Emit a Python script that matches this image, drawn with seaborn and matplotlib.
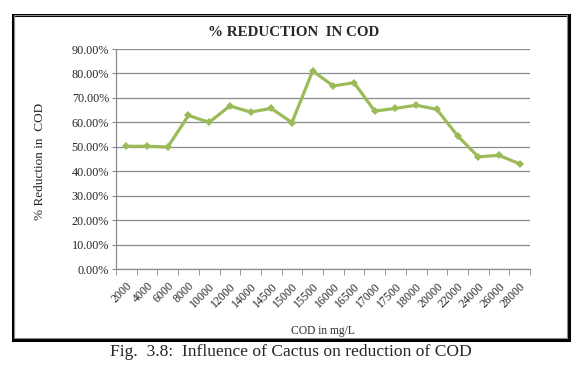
import pandas as pd
import matplotlib.pyplot as plt
import seaborn as sns
from matplotlib.ticker import FuncFormatter, MultipleLocator, FixedLocator
from matplotlib.patches import Rectangle

cod = ['2000', '4000', '6000', '8000', '10000', '12000', '14000', '14500', '15000', '15500',
       '16000', '16500', '17000', '17500', '18000', '20000', '22000', '24000', '26000', '28000']
reduction = [50.2, 50.2, 49.9, 62.8, 60.0, 66.7, 64.2, 65.7, 59.9, 81.0,
             74.9, 76.2, 64.6, 65.7, 67.0, 65.3, 54.5, 45.9, 46.5, 43.0]

data = pd.DataFrame({'cod': cod, 'reduction': reduction})

sns.set_style('white')
plt.rcParams['font.family'] = ['Liberation Serif', 'DejaVu Serif']

fig = plt.figure(figsize=(5.84, 3.66), dpi=100)
ax = fig.add_axes([116/584, 1-269/366, 414/584, 220/366])

sns.lineplot(x='cod', y='reduction', data=data, ax=ax, color='#9BBB59',
             linewidth=2.3, marker='D', markersize=4.5, markeredgewidth=0,
             solid_joinstyle='round')

ax.set_xlim(-0.5, len(cod) - 0.5)
ax.set_ylim(0, 90)
ax.yaxis.set_major_locator(MultipleLocator(10))
ax.yaxis.set_major_formatter(FuncFormatter(lambda v, p: '%.2f%%' % v))
ax.grid(axis='y', color='#8c8c8c', linewidth=0.9)
ax.set_axisbelow(True)

ax.xaxis.set_minor_locator(FixedLocator([i - 0.5 for i in range(len(cod) + 1)]))
ax.tick_params(axis='x', which='major', length=0, labelsize=8.5, pad=8)
ax.tick_params(axis='x', which='minor', length=4, color='#8c8c8c', direction='out', bottom=True)
ax.tick_params(axis='y', length=3, color='#8c8c8c', direction='out', left=True, labelsize=8.7, pad=2)
plt.setp(ax.get_xticklabels(), rotation=45, ha='right', rotation_mode='anchor')

for s in ['top', 'right']:
    ax.spines[s].set_visible(False)
for s in ['left', 'bottom']:
    ax.spines[s].set_color('#8c8c8c')
    ax.spines[s].set_linewidth(0.9)

ax.set_xlabel('COD in mg/L', fontsize=8.3)
ax.set_ylabel('% Reduction in  COD', fontsize=9.5)
ax.xaxis.set_label_coords(0.5, -(325 - 269) / 220)
ax.yaxis.set_label_coords(-(116 - 46) / 414, 1 - (161 - 49) / 220)

fig.text(294/584, 1-32/366, '% REDUCTION  IN COD', ha='center', va='center',
         fontsize=10.8, fontweight='bold')

fig.patches.append(Rectangle((13/584, 1-340/366), 556/584, 325/366, transform=fig.transFigure,
                             fill=False, edgecolor='black', linewidth=2.2))
fig.patches.append(Rectangle((14/584, 1-338/366), 553/584, 323/366, transform=fig.transFigure,
                             fill=False, edgecolor='#8c8c8c', linewidth=0.8))

fig.text(291/584, 1-352/366, 'Fig.  3.8:  Influence of Cactus on reduction of COD',
         ha='center', va='center', fontsize=12.6)

plt.savefig('out.png', dpi=100)
